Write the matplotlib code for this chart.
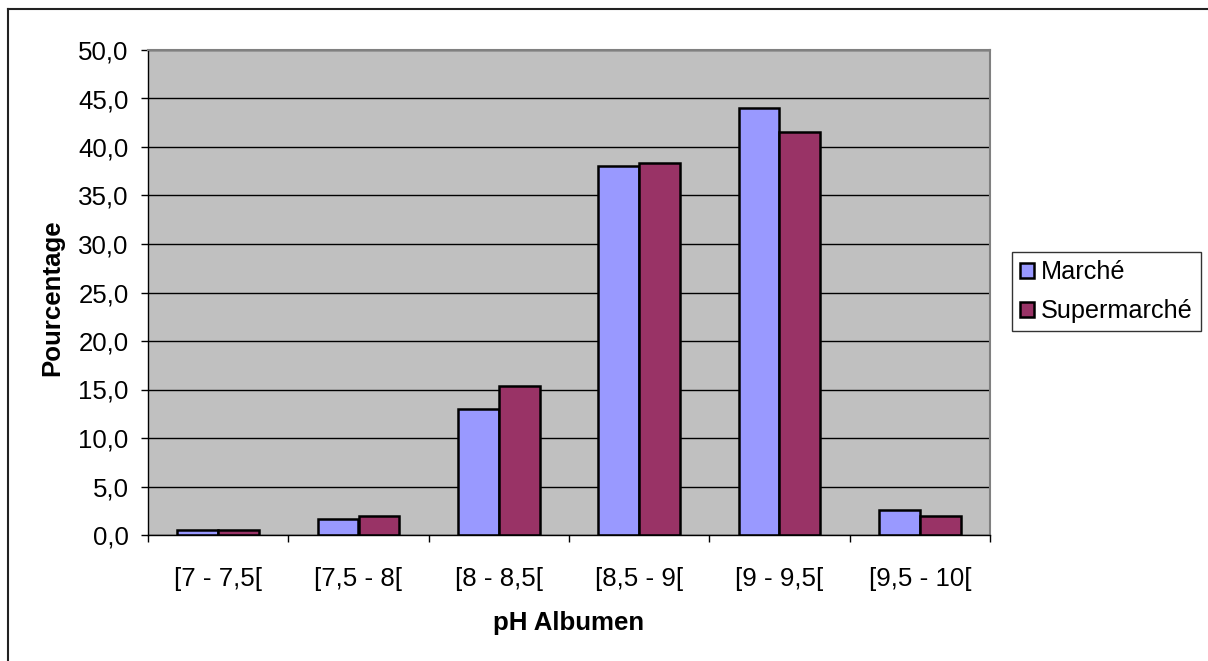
import numpy as np
import matplotlib
matplotlib.use('Agg')
import matplotlib.pyplot as plt
from matplotlib.lines import Line2D

plt.rcParams['font.family'] = ['Liberation Sans', 'DejaVu Sans']

# donnees
classes = ['[7 - 7,5[', '[7,5 - 8[', '[8 - 8,5[', '[8,5 - 9[', '[9 - 9,5[', '[9,5 - 10[']
marche = [0.5, 1.6, 13.0, 38.0, 44.0, 2.6]
supermarche = [0.5, 2.0, 15.4, 38.4, 41.5, 2.0]
yticks = [0, 5, 10, 15, 20, 25, 30, 35, 40, 45, 50]
ytick_labels = [('%.1f' % v).replace('.', ',') for v in yticks]

fs = 18.6

fig = plt.figure(figsize=(12.08, 6.61), dpi=100)
ax = fig.add_axes([148/1208., 1-535/661., 842/1208., 485/661.])
ax.set_facecolor('#C0C0C0')

x = np.arange(len(classes))
w = 0.29
ax.bar(x - w/2, marche, w, color='#9999FF', edgecolor='black', linewidth=1.8, label='Marché')
ax.bar(x + w/2, supermarche, w, color='#993366', edgecolor='black', linewidth=1.8, label='Supermarché')

ax.set_xlim(-0.5, len(classes) - 0.5)
ax.set_ylim(0, 50)
ax.set_yticks(yticks)
ax.set_yticklabels(ytick_labels)
ax.set_xticks(x)
ax.set_xticklabels(classes)
ax.set_xticks(np.arange(len(classes) + 1) - 0.5, minor=True)
ax.tick_params(axis='x', which='major', length=0, pad=23, labelsize=fs)
ax.tick_params(axis='x', which='minor', length=5, width=1, direction='out')
ax.tick_params(axis='y', length=5, width=1, direction='out', pad=9, labelsize=fs)

ax.yaxis.grid(True, color='black', linewidth=1)
ax.set_axisbelow(True)
for s in ['top', 'right']:
    ax.spines[s].set_color('#808080')
    ax.spines[s].set_linewidth(1.5)
for s in ['left', 'bottom']:
    ax.spines[s].set_color('black')
    ax.spines[s].set_linewidth(1)

ax.set_ylabel('Pourcentage', fontsize=fs, fontweight='bold')
ax.yaxis.set_label_coords(-0.1, 0.49)
ax.set_xlabel('pH Albumen', fontsize=fs, fontweight='bold')
ax.xaxis.set_label_coords(0.5, -0.157)

leg = fig.legend(loc='upper left', bbox_to_anchor=(1012/1208., 1-252/661.),
                 fontsize=18.2, frameon=True, fancybox=False, shadow=False,
                 handlelength=0.55, handleheight=0.55, handletextpad=0.28,
                 labelspacing=0.6, borderpad=0.32, borderaxespad=0)
leg.get_frame().set_edgecolor('black')
leg.get_frame().set_linewidth(1)

# cadre du graphique (haut et gauche)
fig.add_artist(Line2D([8/1208., 1], [1-9/661., 1-9/661.], transform=fig.transFigure, color='#222222', linewidth=1.5))
fig.add_artist(Line2D([8/1208., 8/1208.], [0, 1-9/661.], transform=fig.transFigure, color='#222222', linewidth=1.5))

fig.savefig('out.png', dpi=100)
